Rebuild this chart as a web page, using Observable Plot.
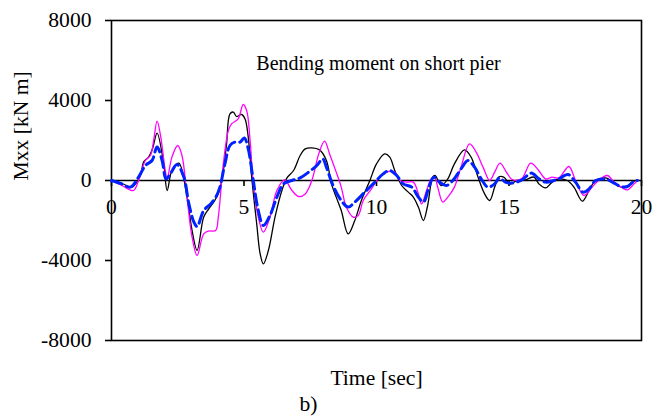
<!DOCTYPE html>
<html><head><meta charset="utf-8">
<script src="https://cdn.jsdelivr.net/npm/d3@7"></script>
<script src="https://cdn.jsdelivr.net/npm/@observablehq/plot@0.6"></script>
<style>
html,body{margin:0;padding:0;background:#fff}
#chart svg, #chart svg text, #chart svg tspan{font-family:'Liberation Serif','Times New Roman',serif !important;font-variant:normal !important;}
</style>
</head><body><div id="chart"></div>
<script>
// Tick values
const xTicks = [0, 5, 10, 15, 20];
const yTicks = [-8000, -4000, 0, 4000, 8000];

// Texts
const titleText = "Bending moment on short pier";
const xLabel = "Time [sec]";
const yLabel = "Mxx [kN m]";
const panelLabel = "b)";

// Black series (time [sec], moment [kN m])
const blackT = [0,0.4,0.77,1.09,1.21,1.40,1.55,1.72,1.97,2.10,2.28,2.54,2.85,3.04,3.23,3.48,3.67,3.9,4.07,4.2,4.34,4.47,4.6,4.72,4.91,5.04,5.16,5.29,5.48,5.61,5.73,5.92,6.17,6.43,6.62,6.87,7.12,7.31,7.56,7.85,8.11,8.30,8.48,8.67,8.93,9.18,9.43,9.75,10.0,10.31,10.5,10.69,10.95,11.2,11.39,11.58,11.77,11.93,12.12,12.21,12.44,12.69,12.94,13.32,13.57,13.83,14.08,14.27,14.46,14.61,14.80,15.05,15.3,15.62,15.94,16.13,16.38,16.63,16.88,17.2,17.45,17.77,18.02,18.27,18.65,18.84,19.16,19.41,19.66,19.85];
const blackV = [0,-150,-330,250,920,1170,1600,2370,830,-500,500,870,-830,-2500,-3500,-1830,-1420,-1000,-500,300,1800,3330,3420,3200,3300,3080,2170,170,-2170,-3670,-4170,-3500,-1830,-500,130,500,1250,1580,1630,1530,1000,-170,-830,-1500,-2670,-2000,-1000,0,830,1330,1170,500,-250,-580,-830,-1330,-2000,-1250,170,250,-250,80,830,1530,1170,170,-670,-1000,-330,170,170,-170,0,30,170,-170,-370,-80,80,0,-330,-1030,-500,0,130,0,-300,-330,-80,30];

// Magenta series
const magentaT = [0,0.39,0.83,1.02,1.28,1.47,1.59,1.72,1.84,2.03,2.10,2.28,2.5,2.66,2.85,3.04,3.23,3.48,3.67,3.93,4.03,4.22,4.41,4.53,4.78,4.97,5.10,5.23,5.35,5.54,5.73,5.98,6.24,6.53,6.81,7.06,7.31,7.56,7.82,8.04,8.23,8.48,8.67,8.86,9.12,9.31,9.5,9.81,10.06,10.38,10.69,10.88,11.14,11.39,11.58,11.7,11.89,12.06,12.19,12.31,12.5,12.69,12.94,13.19,13.51,13.76,14.02,14.27,14.46,14.66,14.91,15.12,15.47,15.82,16.12,16.38,16.63,16.88,17.26,17.51,17.83,18.14,18.4,18.71,18.97,19.28,19.47,19.72,19.85];
const magentaV = [0,-250,-500,0,1000,1250,2000,2970,2330,500,80,1170,1750,1250,-830,-2830,-3750,-2670,-2530,-2500,-1830,830,2500,2830,3080,3800,3500,2000,-170,-1830,-2580,-1830,-500,30,-500,-800,-670,0,1330,1970,1330,420,-330,-1330,-1830,-1750,-1000,-420,80,420,420,0,-80,-80,-670,-1170,-500,80,170,-330,-1080,-830,-330,670,1830,1420,670,0,420,870,400,50,80,870,500,80,170,130,700,0,-750,-330,30,250,-80,-370,-470,-170,0];

// Blue dashed series
const blueT = [0,0.39,0.71,1.02,1.28,1.53,1.72,1.91,2.06,2.22,2.47,2.73,2.92,3.11,3.23,3.48,3.74,3.95,4.09,4.28,4.47,4.66,4.85,5.01,5.16,5.35,5.54,5.73,5.98,6.24,6.49,6.81,7.12,7.44,7.75,7.97,8.11,8.36,8.67,8.93,9.18,9.56,9.94,10.25,10.5,10.76,11.01,11.33,11.58,11.77,11.98,12.16,12.38,12.63,12.88,13.19,13.45,13.7,13.95,14.2,14.46,14.64,14.86,15.11,15.49,15.84,16.13,16.38,16.69,16.88,17.23,17.51,17.79,18.02,18.27,18.65,18.9,19.22,19.47,19.72,19.85];
const blueV = [0,-170,-330,170,750,1000,1670,1000,80,330,800,170,-1170,-2080,-2300,-1500,-1170,-800,-330,830,1750,1920,1920,2130,1580,0,-1500,-2250,-1750,-830,-170,0,130,420,750,1080,670,-250,-1000,-1330,-1080,-580,-80,330,500,250,-170,-330,-830,-1080,-330,170,-80,-250,0,580,1000,670,80,-330,-170,130,-80,-130,30,370,80,-80,0,80,300,-80,-580,-420,0,70,-80,-300,-300,-30,0];

const W = 653, H = 419;
const mL = 111, mR = 12, mT = 20, mB = 79;
const innerH = H - mT - mB;
const serif = "'Liberation Serif','Times New Roman',serif";
const fs = 21.6;

const zip = (T, V) => T.map((t, i) => ({t, v: V[i]}));
const black = zip(blackT, blackV);
const magenta = zip(magentaT, magentaV);
const blue = zip(blueT, blueV);

const chart = Plot.plot({
  width: W, height: H,
  marginLeft: mL, marginRight: mR, marginTop: mT, marginBottom: mB,
  style: {fontFamily: serif, fontSize: fs + "px", color: "black", background: "white"},
  x: {domain: [0, 20]},
  y: {domain: [-8000, 8000]},
  marks: [
    Plot.frame({stroke: "black", strokeWidth: 1.6}),
    Plot.ruleY([0], {stroke: "black", strokeWidth: 1.6}),
    Plot.axisY({ticks: yTicks, tickSize: 6, tickPadding: 14, tickFormat: d => String(d), label: null, fontSize: fs, fontFamily: serif, strokeWidth: 1.6}),
    Plot.axisX({ticks: xTicks, anchor: "bottom", dy: -innerH / 2, tickSize: 6, tickPadding: 12, tickFormat: d => String(d), label: null, fontSize: fs, fontFamily: serif, strokeWidth: 1.6}),
    Plot.line(black, {x: "t", y: "v", stroke: "black", strokeWidth: 1.3, curve: "catmull-rom"}),
    Plot.line(magenta, {x: "t", y: "v", stroke: "#ff00ff", strokeWidth: 1.3, curve: "catmull-rom"}),
    Plot.line(blue, {x: "t", y: "v", stroke: "#0022ff", strokeWidth: 3, strokeDasharray: "11,5", curve: "catmull-rom"}),
    Plot.text([titleText], {frameAnchor: "top", dx: 2, dy: 49, lineAnchor: "bottom", fontSize: 20, fontFamily: serif}),
    Plot.text([xLabel], {frameAnchor: "bottom", dx: 0, dy: 44, lineAnchor: "bottom", fontSize: fs, fontFamily: serif}),
    Plot.text([panelLabel], {frameAnchor: "bottom", dx: -68, dy: 70, lineAnchor: "bottom", fontSize: fs, fontFamily: serif}),
    Plot.text([yLabel], {frameAnchor: "left", dx: -84, rotate: -90, lineAnchor: "bottom", fontSize: fs, fontFamily: serif})
  ]
});
document.getElementById("chart").appendChild(chart);
</script>
</body></html>
